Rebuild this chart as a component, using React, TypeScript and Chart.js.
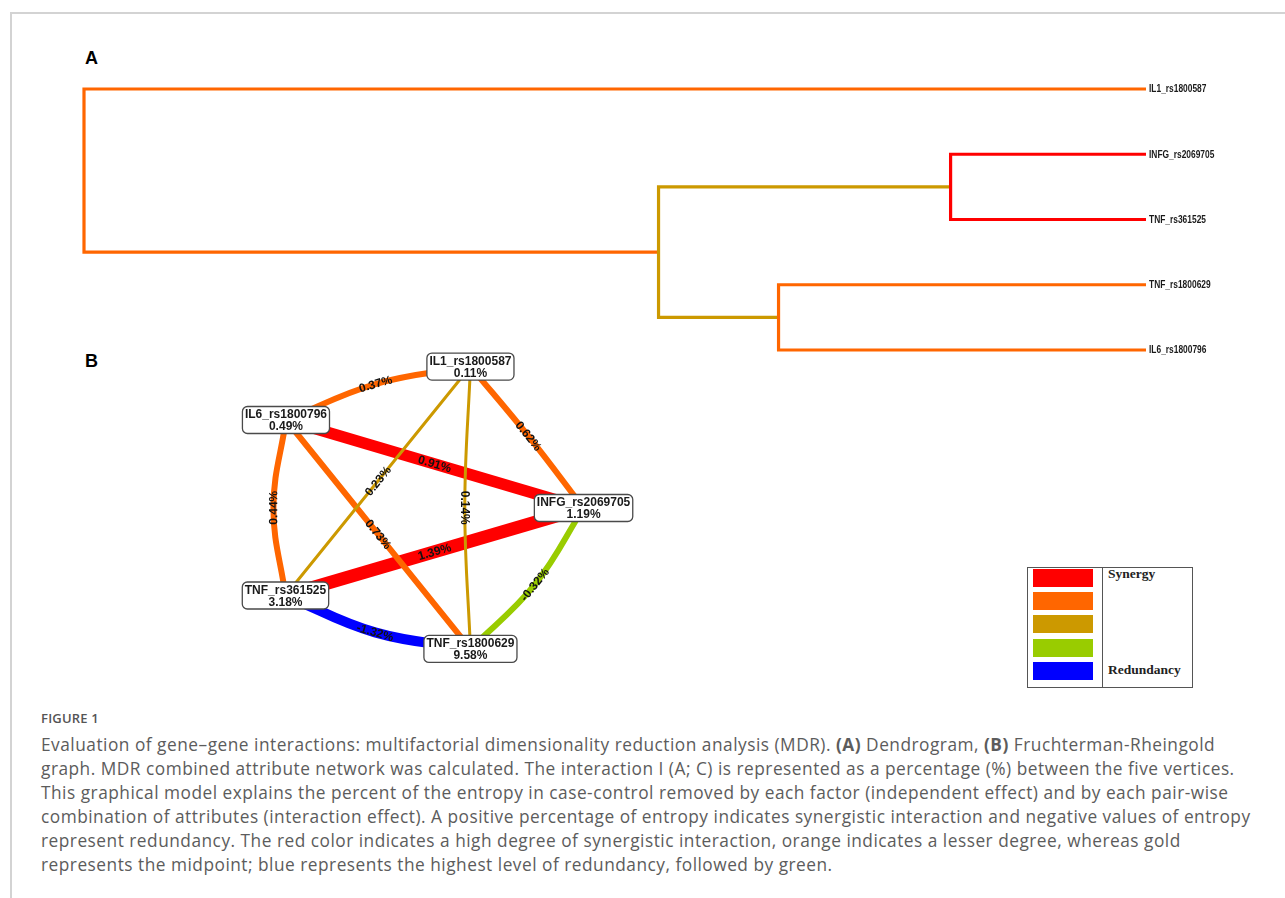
import React, { useEffect, useRef } from 'react';
import { Chart, registerables } from 'chart.js';
Chart.register(...registerables);

// ---------- Panel A: dendrogram data ----------
const leafNames = ['IL1_rs1800587', 'INFG_rs2069705', 'TNF_rs361525', 'TNF_rs1800629', 'IL6_rs1800796'];
// merges: node ids 0..4 are leaves, merge k creates node 5+k
const mergeA = [1, 3, 5, 0];
const mergeB = [2, 4, 6, 7];
const mergeHeight = [0.184, 0.346, 0.459, 1.0];
const mergeColor = ['#ff0000', '#ff6600', '#cc9900', '#ff6600'];

// ---------- Panel B: interaction graph data ----------
const nodeNames = ['IL1_rs1800587', 'IL6_rs1800796', 'INFG_rs2069705', 'TNF_rs361525', 'TNF_rs1800629'];
const nodeEntropy = [0.11, 0.49, 1.19, 3.18, 9.58];
const nodeX = [0.284, -0.869, 0.991, -0.872, 0.284];
const nodeY = [0.884, 0.55, 0.0, -0.547, -0.881];
const edgeFrom = [0, 0, 0, 0, 1, 1, 1, 2, 2, 3];
const edgeTo = [1, 2, 3, 4, 2, 3, 4, 3, 4, 4];
const edgeValue = [0.37, 0.62, 0.23, 0.14, 0.91, 0.44, 0.73, 1.39, -0.32, -1.32];

// style only: curvature of each edge (fraction of chord, + = away from centre)
const edgeBend = [0.05, 0.01, 0.0, -0.02, 0.0, 0.07, 0.0, 0.0, 0.055, 0.055];

const RED = '#ff0000', ORANGE = '#ff6600', GOLD = '#cc9900', GREEN = '#99cc00', BLUE = '#0000ff';
function edgeColor(v: number) {
  if (v >= 0.8) return RED;
  if (v >= 0.3) return ORANGE;
  if (v >= 0) return GOLD;
  if (v >= -0.5) return GREEN;
  return BLUE;
}
function edgeWidth(v: number) {
  const c = edgeColor(v);
  if (c === RED) return 8 + 3.6 * v;
  if (c === GOLD) return 3;
  if (c === BLUE) return 10;
  return 6;
}

const LEAF_FONT = 'bold 10.5px "Liberation Sans", Arial, sans-serif';

function Dendrogram() {
  const ref = useRef<HTMLCanvasElement | null>(null);
  useEffect(() => {
    const pos: number[] = leafNames.map((_, i) => i);
    const hgt: number[] = leafNames.map(() => 0);
    const datasets: any[] = [];
    mergeA.forEach((a, k) => {
      const b = mergeB[k];
      const h = mergeHeight[k];
      pos.push((pos[a] + pos[b]) / 2);
      hgt.push(h);
      datasets.push({
        data: [
          { x: hgt[a], y: pos[a] },
          { x: h, y: pos[a] },
          { x: h, y: pos[b] },
          { x: hgt[b], y: pos[b] },
        ],
        borderColor: mergeColor[k],
        borderWidth: 3.2,
        borderJoinStyle: 'miter',
        borderCapStyle: 'butt',
        pointRadius: 0,
        tension: 0,
        fill: false,
        clip: false,
      });
    });
    // condensed leaf labels, placed at the y-axis tick positions
    const leafLabels = {
      id: 'leafLabels',
      afterDraw(chart: any) {
        const ctx = chart.ctx as CanvasRenderingContext2D;
        const ys = chart.scales.y;
        const x0 = ys.left + 3;
        ctx.save();
        ctx.font = LEAF_FONT;
        ctx.fillStyle = '#1a1a1a';
        ctx.textAlign = 'left';
        ctx.textBaseline = 'middle';
        ys.ticks.forEach((t: any) => {
          const name = leafNames[t.value];
          if (!name) return;
          const py = ys.getPixelForValue(t.value);
          ctx.save();
          ctx.translate(x0, py);
          ctx.scale(0.8, 1);
          ctx.fillText(name, 0, 0.5);
          ctx.restore();
        });
        ctx.restore();
      },
    };
    const chart = new Chart(ref.current as HTMLCanvasElement, {
      type: 'line',
      data: { datasets },
      options: {
        animation: false,
        responsive: false,
        events: [],
        layout: { padding: { left: 44, top: 29, bottom: 20, right: 0 } },
        plugins: { legend: { display: false }, tooltip: { enabled: false } },
        scales: {
          x: { type: 'linear', min: 0, max: 1, reverse: true, display: false },
          y: {
            type: 'linear',
            position: 'right',
            min: 0,
            max: 4,
            reverse: true,
            grid: { display: false, drawTicks: false },
            border: { display: false },
            afterFit: (s: any) => { s.width = 124; },
            ticks: {
              stepSize: 1,
              padding: 3,
              display: false,
              font: { size: 10 },
            },
          },
        },
      } as any,
      plugins: [leafLabels],
    });
    return () => chart.destroy();
  }, []);
  return (
    <canvas
      ref={ref}
      width={1230}
      height={310}
      style={{ position: 'absolute', left: 40, top: 60, width: 1230, height: 310 }}
    />
  );
}

const NODE_FONT = 'bold 12px "Liberation Sans", Arial, sans-serif';
const EDGE_FONT = 'bold 12px "Liberation Sans", Arial, sans-serif';

function Network() {
  const ref = useRef<HTMLCanvasElement | null>(null);
  useEffect(() => {
    const datasets = edgeFrom.map((f, i) => {
      const t = edgeTo[i];
      const x1 = nodeX[f], y1 = nodeY[f], x2 = nodeX[t], y2 = nodeY[t];
      const mx = (x1 + x2) / 2, my = (y1 + y2) / 2;
      let nx = -(y2 - y1), ny = x2 - x1;
      const len = Math.hypot(nx, ny);
      nx /= len; ny /= len;
      if (nx * mx + ny * my < 0) { nx = -nx; ny = -ny; }
      const b = edgeBend[i] * len;
      return {
        data: [
          { x: x1, y: y1 },
          { x: mx + nx * b, y: my + ny * b },
          { x: x2, y: y2 },
        ],
        borderColor: edgeColor(edgeValue[i]),
        borderWidth: edgeWidth(edgeValue[i]),
        borderCapStyle: 'butt',
        pointRadius: 0,
        tension: b !== 0 ? 0.4 : 0,
        fill: false,
        clip: false,
      };
    });

    const labelsAndNodes = {
      id: 'labelsAndNodes',
      afterDatasetsDraw(chart: any) {
        const ctx = chart.ctx as CanvasRenderingContext2D;
        const xs = chart.scales.x, ys = chart.scales.y;
        ctx.save();
        // edge labels
        ctx.font = EDGE_FONT;
        ctx.fillStyle = '#111';
        ctx.textAlign = 'center';
        ctx.textBaseline = 'middle';
        datasets.forEach((ds, i) => {
          const p1 = ds.data[0], pm = ds.data[1], p2 = ds.data[2];
          const ax = xs.getPixelForValue(p1.x), ay = ys.getPixelForValue(p1.y);
          const bx = xs.getPixelForValue(p2.x), by = ys.getPixelForValue(p2.y);
          const mx = xs.getPixelForValue(pm.x), my = ys.getPixelForValue(pm.y);
          let ang = Math.atan2(by - ay, bx - ax);
          if (ang > Math.PI / 2 + 1e-6) ang -= Math.PI;
          if (ang <= -Math.PI / 2 + 1e-6) ang += Math.PI;
          ctx.save();
          ctx.translate(mx, my);
          ctx.rotate(ang);
          ctx.fillText(edgeValue[i].toFixed(2) + '%', 0, 0.5);
          ctx.restore();
        });
        // node boxes
        nodeNames.forEach((name, i) => {
          const cx = xs.getPixelForValue(nodeX[i]);
          const cy = ys.getPixelForValue(nodeY[i]);
          ctx.font = NODE_FONT;
          const w = ctx.measureText(name).width + 5;
          const h = 27;
          const x = cx - w / 2, y = cy - h / 2;
          ctx.beginPath();
          (ctx as any).roundRect(x, y, w, h, 5);
          ctx.fillStyle = '#ffffff';
          ctx.fill();
          ctx.lineWidth = 1.3;
          ctx.strokeStyle = '#4a4a4a';
          ctx.stroke();
          ctx.fillStyle = '#1a1a1a';
          ctx.textAlign = 'center';
          ctx.textBaseline = 'middle';
          ctx.fillText(name, cx, y + 8.5);
          ctx.fillText(nodeEntropy[i].toFixed(2) + '%', cx, y + 20.5);
        });
        ctx.restore();
      },
    };

    const chart = new Chart(ref.current as HTMLCanvasElement, {
      type: 'line',
      data: { datasets },
      options: {
        animation: false,
        responsive: false,
        events: [],
        layout: { padding: 0 },
        plugins: { legend: { display: false }, tooltip: { enabled: false } },
        scales: {
          x: { type: 'linear', min: -1.21875, max: 1.40625, display: false },
          y: { type: 'linear', min: -1.075, max: 1.05, display: false },
        },
      } as any,
      plugins: [labelsAndNodes],
    });
    return () => chart.destroy();
  }, []);
  return (
    <canvas
      ref={ref}
      width={420}
      height={340}
      style={{ position: 'absolute', left: 230, top: 340, width: 420, height: 340 }}
    />
  );
}

const legendColors = [RED, ORANGE, GOLD, GREEN, BLUE];
const legendTops = [569, 592, 615, 639, 662];

const captionLines: React.ReactNode[] = [
  <>Evaluation of gene–gene interactions: multifactorial dimensionality reduction analysis (MDR). <b style={{ fontWeight: 700 }}>(A)</b> Dendrogram, <b style={{ fontWeight: 700 }}>(B)</b> Fruchterman-Rheingold</>,
  <>graph. MDR combined attribute network was calculated. The interaction I (A; C) is represented as a percentage (%) between the five vertices.</>,
  <>This graphical model explains the percent of the entropy in case-control removed by each factor (independent effect) and by each pair-wise</>,
  <>combination of attributes (interaction effect). A positive percentage of entropy indicates synergistic interaction and negative values of entropy</>,
  <>represent redundancy. The red color indicates a high degree of synergistic interaction, orange indicates a lesser degree, whereas gold</>,
  <>represents the midpoint; blue represents the highest level of redundancy, followed by green.</>,
];

export default function App() {
  const panelLabel: React.CSSProperties = {
    position: 'absolute',
    fontFamily: '"Liberation Sans", Arial, sans-serif',
    fontWeight: 700,
    fontSize: 18,
    lineHeight: '18px',
    color: '#000',
  };
  const serif: React.CSSProperties = {
    position: 'absolute',
    fontFamily: '"Liberation Serif", "Times New Roman", serif',
    fontWeight: 700,
    fontSize: 13.5,
    lineHeight: '15px',
    color: '#222',
    whiteSpace: 'nowrap',
  };
  return (
    <div style={{ position: 'relative', width: 1285, height: 898, overflow: 'hidden', background: '#fff' }}>
      <style>{'html,body{margin:0;padding:0;overflow:hidden;background:#fff}'}</style>
      <div
        style={{
          position: 'absolute', left: 10, top: 12, width: 1400, height: 1000,
          borderTop: '2px solid #d3d3d3', borderLeft: '2px solid #d3d3d3',
        }}
      />
      <div style={{ ...panelLabel, left: 85, top: 49 }}>A</div>
      <div style={{ ...panelLabel, left: 85, top: 352 }}>B</div>
      <Dendrogram />
      <Network />
      {/* legend */}
      <div
        style={{
          position: 'absolute', left: 1027, top: 567, width: 166, height: 121,
          border: '1px solid #555', boxSizing: 'border-box', background: '#fff',
        }}
      >
        <div style={{ position: 'absolute', left: 74, top: 0, width: 1, height: '100%', background: '#555' }} />
      </div>
      {legendColors.map((c, i) => (
        <div key={c} style={{ position: 'absolute', left: 1033, top: legendTops[i], width: 60, height: 18, background: c }} />
      ))}
      <div style={{ ...serif, left: 1108, top: 566 }}>Synergy</div>
      <div style={{ ...serif, left: 1108, top: 662 }}>Redundancy</div>
      {/* caption */}
      <div
        style={{
          position: 'absolute', left: 41, top: 710, fontFamily: '"Open Sans", sans-serif',
          fontWeight: 600, fontSize: 13, lineHeight: '16px', color: '#555', letterSpacing: 0.2,
        }}
      >
        FIGURE 1
      </div>
      {captionLines.map((ln, i) => (
        <div
          key={i}
          style={{
            position: 'absolute', left: 41, top: 733 + i * 24, whiteSpace: 'nowrap',
            fontFamily: '"Open Sans", sans-serif', fontSize: 17.3, lineHeight: '24px', color: '#5c5c5c',
            letterSpacing: 0.5,
          }}
        >
          {ln}
        </div>
      ))}
    </div>
  );
}
